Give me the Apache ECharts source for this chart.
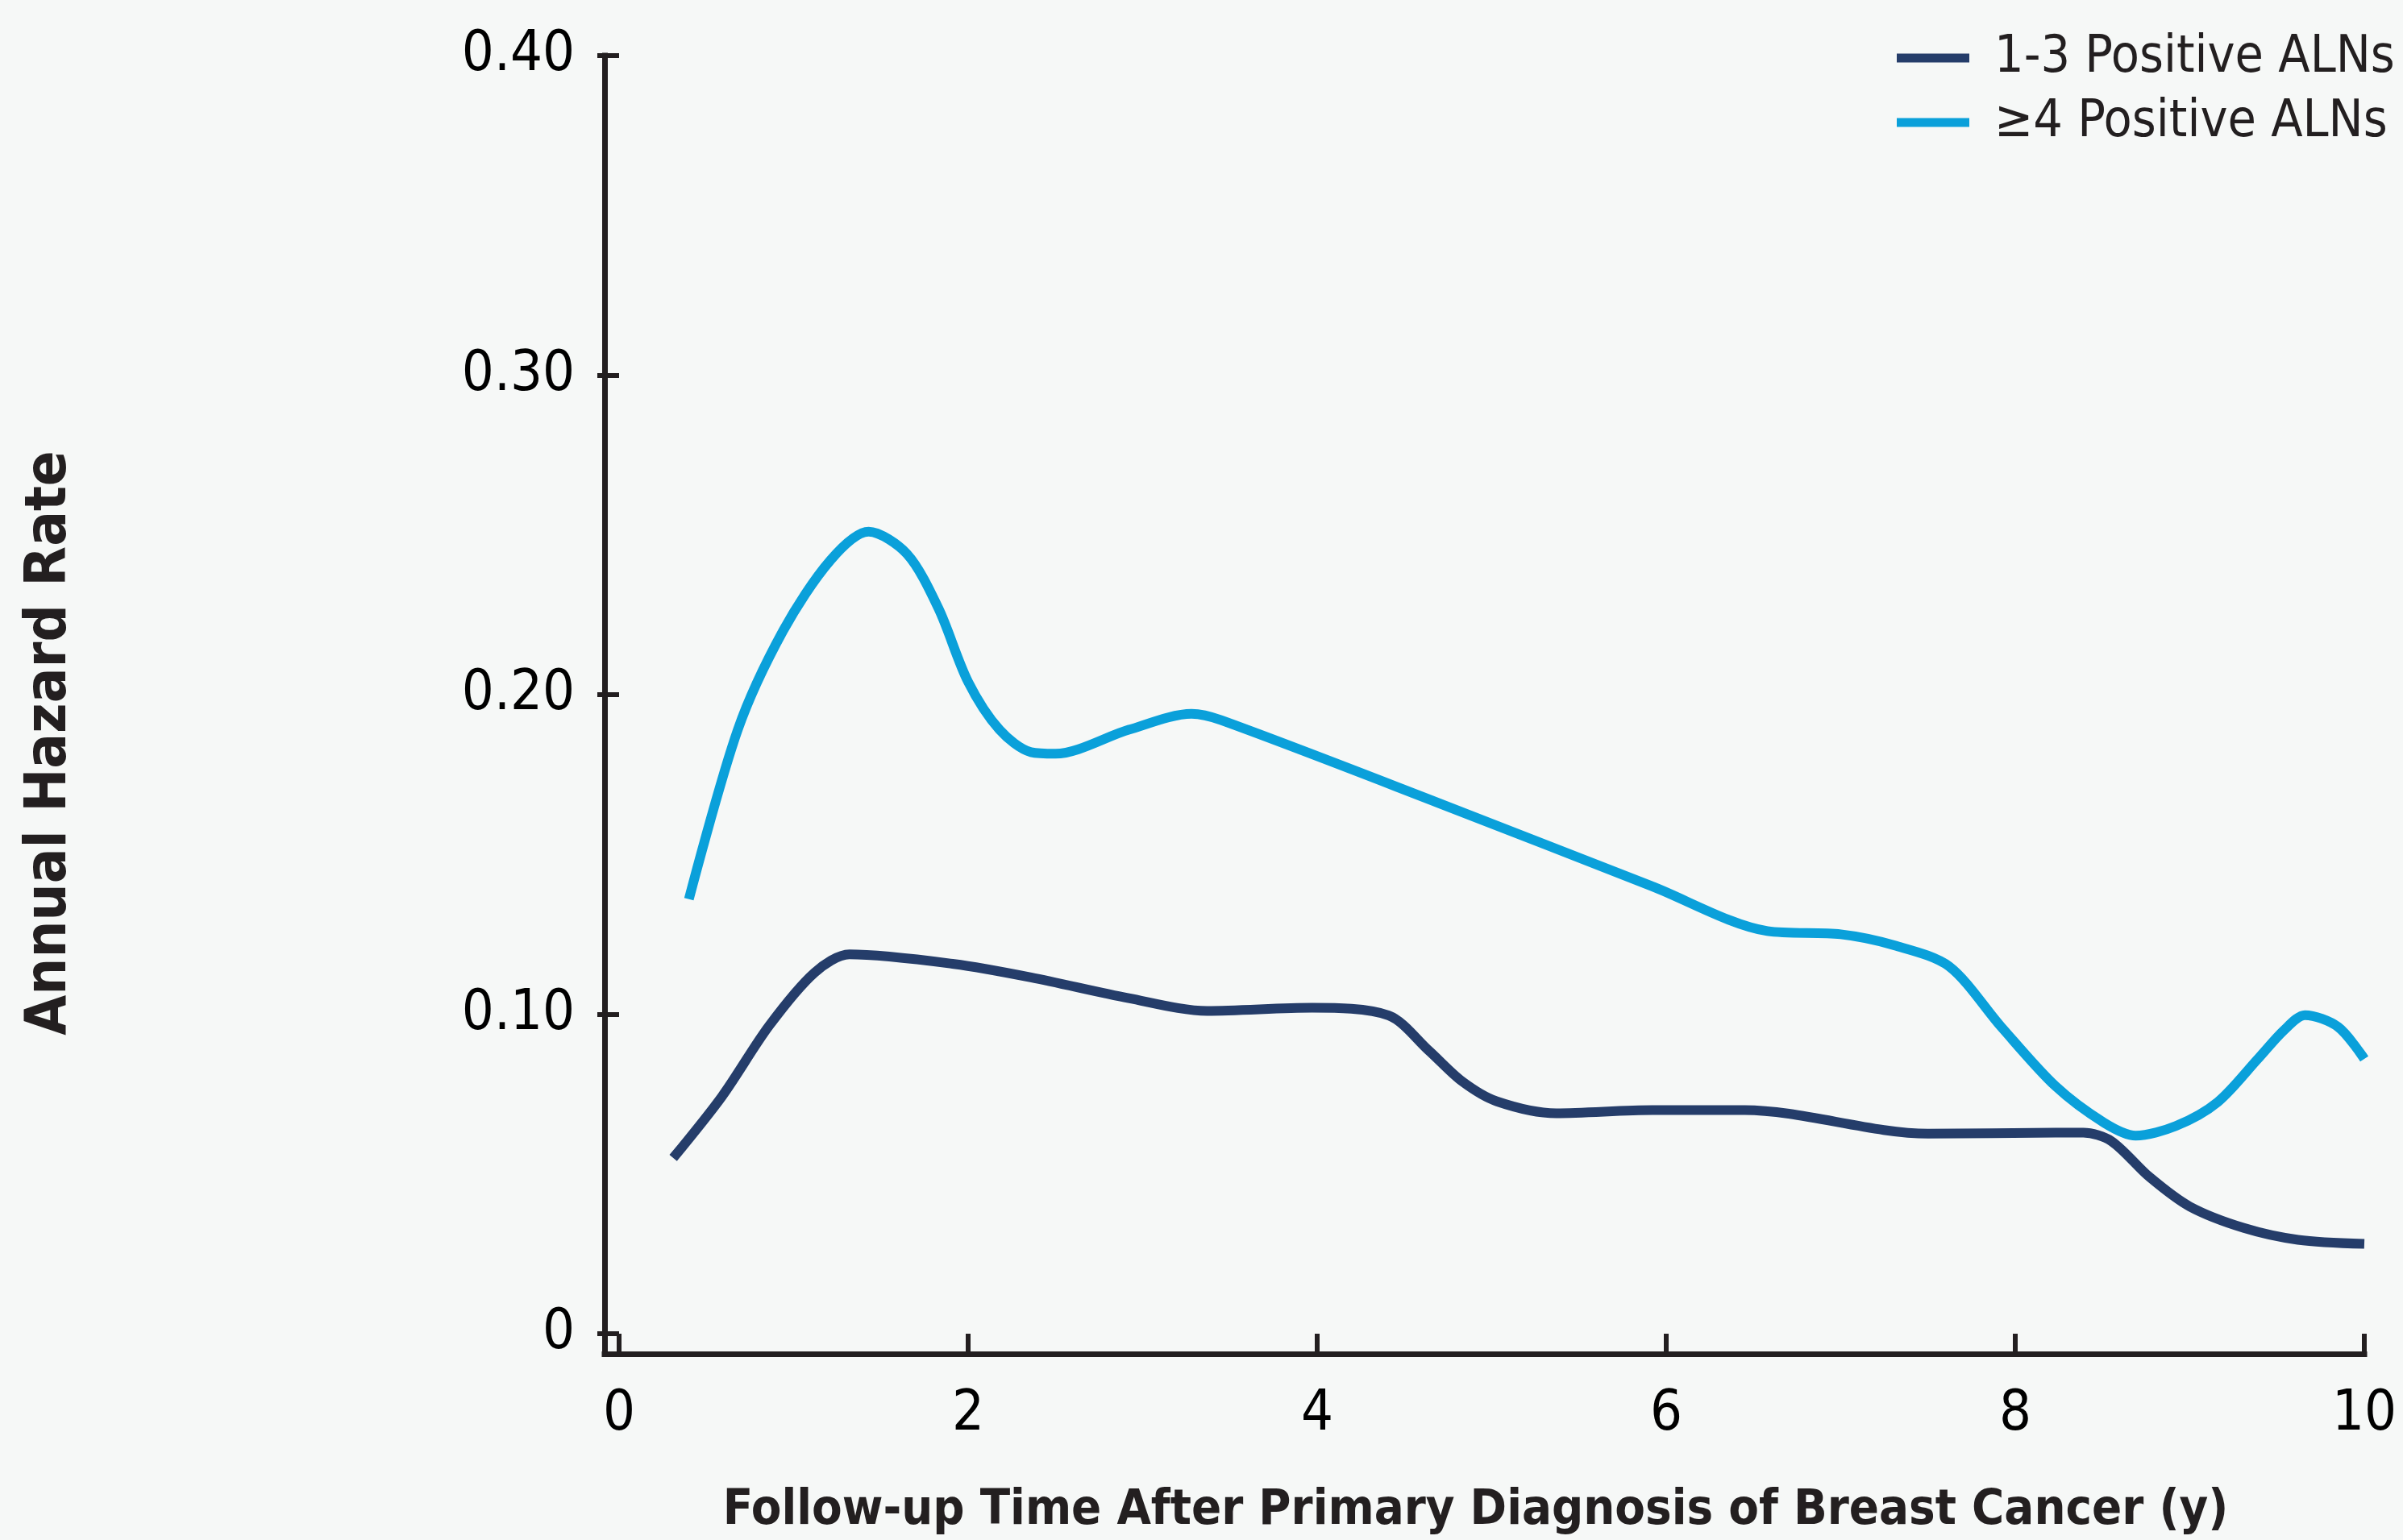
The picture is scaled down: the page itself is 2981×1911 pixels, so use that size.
<!DOCTYPE html>
<html>
<head>
<meta charset="utf-8">
<script src="https://cdn.jsdelivr.net/npm/echarts@6/dist/echarts.min.js"></script>
<style>
html,body{margin:0;padding:0;background:#f6f8f7;}
#chart{width:2981px;height:1911px;}
</style>
</head>
<body>
<div id="chart"></div>
<script>
// ---- data ----
var seriesNames = ['1-3 Positive ALNs', '\u22654 Positive ALNs'];
var xTickLabels = ['0', '2', '4', '6', '8', '10'];
var yTickLabels = ['0', '0.10', '0.20', '0.30', '0.40'];
var lowNodes = [
  [0.31,0.055],[0.59,0.0743],[0.86,0.0964],[1.12,0.113],[1.32,0.1187],[1.92,0.1157],
  [2.36,0.1115],[2.92,0.105],[3.37,0.101],[3.97,0.102],[4.41,0.0996],[4.64,0.0886],
  [4.83,0.079],[5.03,0.0727],[5.37,0.069],[5.92,0.070],[6.45,0.070],[7.50,0.0626],
  [8.23,0.0629],[8.39,0.0629],[8.55,0.0603],[8.77,0.049],[9.0,0.0398],[9.31,0.0331],
  [9.62,0.0294],[10.0,0.0281]
];
var highNodes = [
  [0.40,0.136],[0.68,0.189],[0.94,0.220],[1.21,0.242],[1.43,0.251],[1.65,0.244],
  [1.83,0.227],[2.00,0.204],[2.18,0.189],[2.36,0.182],[2.50,0.1815],[2.92,0.189],
  [3.28,0.194],[3.45,0.192],[4.70,0.166],[5.92,0.140],[6.58,0.126],[7.00,0.125],
  [7.31,0.1215],[7.62,0.115],[7.92,0.096],[8.23,0.0775],[8.51,0.066],[8.69,0.062],
  [8.92,0.065],[9.16,0.0725],[9.39,0.086],[9.54,0.095],[9.66,0.0997],[9.85,0.096],
  [10.0,0.086]
];
var colors = ['#253d6a', '#0aa0da'];

// ---- chart ----
var font = "'DejaVu Sans Condensed', 'Liberation Sans Narrow', sans-serif";
var ink = '#231f20';
var chart = echarts.init(document.getElementById('chart'), null, {renderer: 'canvas'});
var option = {
  backgroundColor: '#f6f8f7',
  animation: false,
  legend: {
    orient: 'vertical',
    left: 2348,
    top: 35,
    itemWidth: 90,
    itemHeight: 11,
    itemGap: 16,
    icon: 'rect',
    data: seriesNames,
    textStyle: {fontFamily: font, fontSize: 64, color: ink, lineHeight: 60, padding: [0, 0, 0, 26]}
  },
  grid: [
    {left: 768, right: 48, top: 69, bottom: 249},
    {left: 750, right: 48, top: 69, bottom: 231}
  ],
  xAxis: [
    {
      gridIndex: 0, type: 'value', min: 0, max: 10, interval: 2, offset: 18,
      axisLine: {show: false},
      axisTick: {show: true, length: 26, lineStyle: {color: ink, width: 6}},
      splitLine: {show: false},
      axisLabel: {margin: 48, fontFamily: font, fontSize: 70, color: '#000',
        formatter: function (v) { return xTickLabels[Math.round(v / 2)]; }},
      name: 'Follow-up Time After Primary Diagnosis of Breast Cancer (y)',
      nameLocation: 'middle', nameGap: 172,
      nameTextStyle: {fontFamily: font, fontWeight: 'bold', fontSize: 61, color: ink, padding: [0, 40, 0, 0]}
    },
    {
      gridIndex: 1, type: 'value', min: 0, max: 10,
      axisLine: {show: true, lineStyle: {color: ink, width: 7, cap: 'square'}},
      axisTick: {show: false}, axisLabel: {show: false}, splitLine: {show: false}
    }
  ],
  yAxis: [
    {
      gridIndex: 0, type: 'value', min: 0, max: 0.4, interval: 0.1, offset: 18,
      axisLine: {show: false},
      axisTick: {show: true, length: 27, lineStyle: {color: ink, width: 6}},
      splitLine: {show: false},
      axisLabel: {margin: 37, fontFamily: font, fontSize: 70, color: '#000',
        formatter: function (v) { return yTickLabels[Math.round(v * 10)]; }},
      name: 'Annual Hazard Rate',
      nameLocation: 'middle', nameGap: 652, nameRotate: 90,
      nameTextStyle: {fontFamily: font, fontWeight: 'bold', fontSize: 72, color: ink, padding: [0, 120, 0, 0]}
    },
    {
      gridIndex: 1, type: 'value', min: 0, max: 1,
      axisLine: {show: true, lineStyle: {color: ink, width: 7, cap: 'square'}},
      axisTick: {show: false}, axisLabel: {show: false}, splitLine: {show: false}
    }
  ],
  series: [
    {
      name: seriesNames[0], type: 'line', xAxisIndex: 0, yAxisIndex: 0,
      data: lowNodes, showSymbol: false, smooth: 0.3,
      lineStyle: {color: colors[0], width: 12}, itemStyle: {color: colors[0]}
    },
    {
      name: seriesNames[1], type: 'line', xAxisIndex: 0, yAxisIndex: 0,
      data: highNodes, showSymbol: false, smooth: 0.3,
      lineStyle: {color: colors[1], width: 12}, itemStyle: {color: colors[1]}
    }
  ]
};
chart.setOption(option);
</script>
</body>
</html>
